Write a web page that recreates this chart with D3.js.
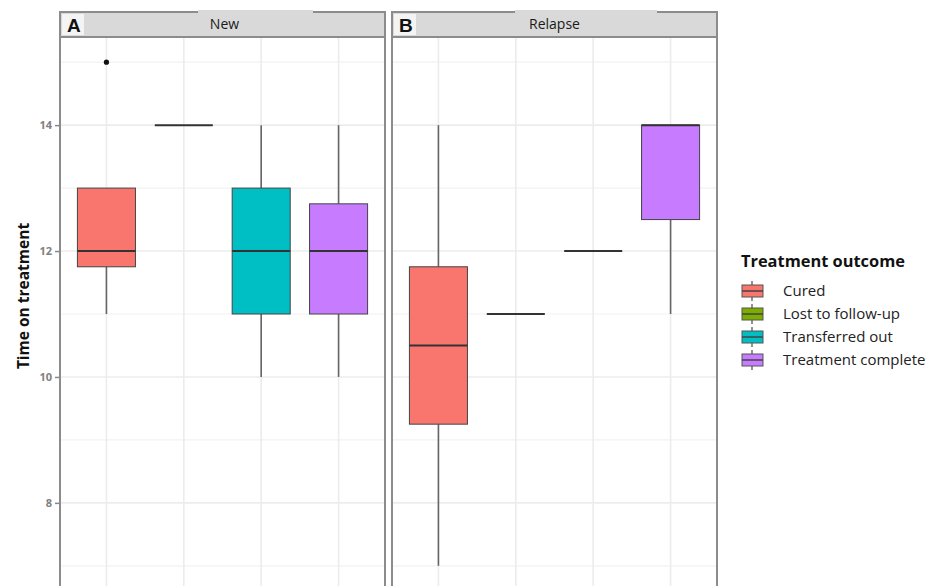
<!DOCTYPE html>
<html>
<head>
<meta charset="utf-8">
<script src="https://cdn.jsdelivr.net/npm/d3@7"></script>
<style>
  html, body { margin: 0; padding: 0; background: #fff; }
  svg { display: block; font-family: "Open Sans", "Noto Sans", sans-serif; }
</style>
</head>
<body>
<svg id="chart" width="929" height="586"></svg>
<script>
// Treatment outcomes (x categories, also the fill)
const outcomes = ["Cured", "Lost to follow-up", "Transferred out", "Treatment complete"];
const outcomeColors = ["#F8766D", "#7CAE00", "#00BFC4", "#C77CFF"];

// Facets
const panels = ["New", "Relapse"];
const panelTags = ["A", "B"];

// Box summaries per facet: [lower whisker, q1, median, q3, upper whisker]
const statsNew = [
  [11, 11.75, 12, 13, 13],
  [14, 14, 14, 14, 14],
  [10, 11, 12, 13, 14],
  [10, 11, 12, 12.75, 14]
];
const statsRelapse = [
  [7, 9.25, 10.5, 11.75, 14],
  [11, 11, 11, 11, 11],
  [12, 12, 12, 12, 12],
  [11, 12.5, 14, 14, 14]
];
// Outlying observations per facet: [outcome index, value]
const outliersNew = [[0, 15]];
const outliersRelapse = [];

const yTicks = [8, 10, 12, 14];
const yMinor = [7, 9, 11, 13, 15];

const svg = d3.select("#chart");

const panelTop = 37, panelBottom = 591;
const panelX = [[60, 385], [392, 717]];
const stripPatch = [[198, 313], [515, 657]];
const stripTop = 12;

const y = d3.scaleLinear().domain([6.6, 15.4]).range([panelBottom, panelTop]);

const allStats = [statsNew, statsRelapse];
const allOutliers = [outliersNew, outliersRelapse];

panels.forEach((name, pi) => {
  const [x0, x1] = panelX[pi];
  // discrete scale with 0.6 expansion on each side
  const step = (x1 - x0) / (outcomes.length - 1 + 1.2);
  const xc = d => x0 + (0.6 + outcomes.indexOf(d)) * step;
  const boxW = step * 0.75;

  const g = svg.append("g");

  // grid
  g.selectAll(".minor").data(yMinor).join("line")
    .attr("x1", x0).attr("x2", x1)
    .attr("y1", d => y(d)).attr("y2", d => y(d))
    .attr("stroke", "#f2f2f2").attr("stroke-width", 1.2);
  g.selectAll(".major").data(yTicks).join("line")
    .attr("x1", x0).attr("x2", x1)
    .attr("y1", d => y(d)).attr("y2", d => y(d))
    .attr("stroke", "#ececec").attr("stroke-width", 1.6);
  g.selectAll(".vgrid").data(outcomes).join("line")
    .attr("x1", d => xc(d)).attr("x2", d => xc(d))
    .attr("y1", panelTop).attr("y2", panelBottom)
    .attr("stroke", "#ececec").attr("stroke-width", 1.6);

  // boxes
  const stats = allStats[pi];
  outcomes.forEach((o, i) => {
    const [lo, q1, med, q3, hi] = stats[i];
    const cx = xc(o);
    if (hi > q3) g.append("line").attr("x1", cx).attr("x2", cx).attr("y1", y(q3)).attr("y2", y(hi))
      .attr("stroke", "#666").attr("stroke-width", 1.6);
    if (lo < q1) g.append("line").attr("x1", cx).attr("x2", cx).attr("y1", y(q1)).attr("y2", y(lo))
      .attr("stroke", "#666").attr("stroke-width", 1.6);
    if (q3 > q1) {
      g.append("rect")
        .attr("x", cx - boxW / 2).attr("width", boxW)
        .attr("y", y(q3)).attr("height", y(q1) - y(q3))
        .attr("fill", outcomeColors[i]).attr("stroke", "#444").attr("stroke-width", 1);
    }
    g.append("line")
      .attr("x1", cx - boxW / 2).attr("x2", cx + boxW / 2)
      .attr("y1", y(med)).attr("y2", y(med))
      .attr("stroke", "#333").attr("stroke-width", 2);
  });

  allOutliers[pi].forEach(([i, v]) => {
    g.append("circle").attr("cx", xc(outcomes[i])).attr("cy", y(v)).attr("r", 2.6).attr("fill", "#111");
  });

  // panel border
  g.append("rect").attr("x", x0).attr("y", panelTop).attr("width", x1 - x0).attr("height", panelBottom - panelTop)
    .attr("fill", "none").attr("stroke", "#8c8c8c").attr("stroke-width", 2);

  // strip
  g.append("rect").attr("x", x0).attr("y", stripTop).attr("width", x1 - x0).attr("height", panelTop - stripTop)
    .attr("fill", "#d9d9d9").attr("stroke", "#8c8c8c").attr("stroke-width", 2);
  const [p0, p1] = stripPatch[pi];
  g.append("rect").attr("x", p0).attr("y", stripTop - 2).attr("width", p1 - p0).attr("height", panelTop - stripTop)
    .attr("fill", "#d9d9d9");
  const midX = (x0 + x1) / 2;
  g.append("text").attr("x", midX + (pi === 0 ? 2 : 0)).attr("y", 29)
    .attr("text-anchor", "middle").attr("font-size", 14).attr("fill", "#1a1a1a").text(name);
  // facet tag
  g.append("rect").attr("x", x0 + 2).attr("y", stripTop + 2).attr("width", 22).attr("height", panelTop - stripTop - 4)
    .attr("fill", "#f4f4f4");
  g.append("text").attr("x", x0 + 7).attr("y", 32)
    .attr("font-size", 19).attr("font-weight", "bold").attr("fill", "#111")
    .attr("font-family", "Liberation Sans, Arial, sans-serif").text(panelTags[pi]);

  // y axis on first panel
  if (pi === 0) {
    const ax = svg.append("g").attr("transform", `translate(${x0 - 1},0)`)
      .call(d3.axisLeft(y).tickValues(yTicks).tickSize(4).tickPadding(3));
    ax.select(".domain").remove();
    ax.selectAll(".tick line").attr("stroke", "#888").attr("stroke-width", 1.5);
    ax.selectAll(".tick text").attr("fill", "#808080").attr("font-size", 11).attr("font-weight", "bold")
      .attr("font-family", "Open Sans, sans-serif");
  }
});

// y axis title
svg.append("text")
  .attr("transform", "translate(29,296) rotate(-90)")
  .attr("text-anchor", "middle").attr("font-size", 15.5).attr("font-weight", "bold").attr("fill", "#111")
  .text("Time on treatment");

// legend
const lg = svg.append("g");
lg.append("text").attr("x", 741).attr("y", 267).attr("font-size", 16.4).attr("font-weight", "bold").attr("fill", "#111")
  .text("Treatment outcome");
outcomes.forEach((o, i) => {
  const cy = 291 + i * 23;
  const k = lg.append("g");
  k.append("line").attr("x1", 752).attr("x2", 752).attr("y1", cy - 10).attr("y2", cy + 10)
    .attr("stroke", "#666").attr("stroke-width", 1.4);
  k.append("rect").attr("x", 742).attr("y", cy - 6).attr("width", 21).attr("height", 12)
    .attr("fill", outcomeColors[i]).attr("stroke", "#555").attr("stroke-width", 1);
  k.append("line").attr("x1", 742).attr("x2", 763).attr("y1", cy).attr("y2", cy)
    .attr("stroke", "#444").attr("stroke-width", 1.5);
  lg.append("text").attr("x", 783).attr("y", cy + 5).attr("font-size", 15).attr("fill", "#222").text(o);
});
</script>
</body>
</html>
